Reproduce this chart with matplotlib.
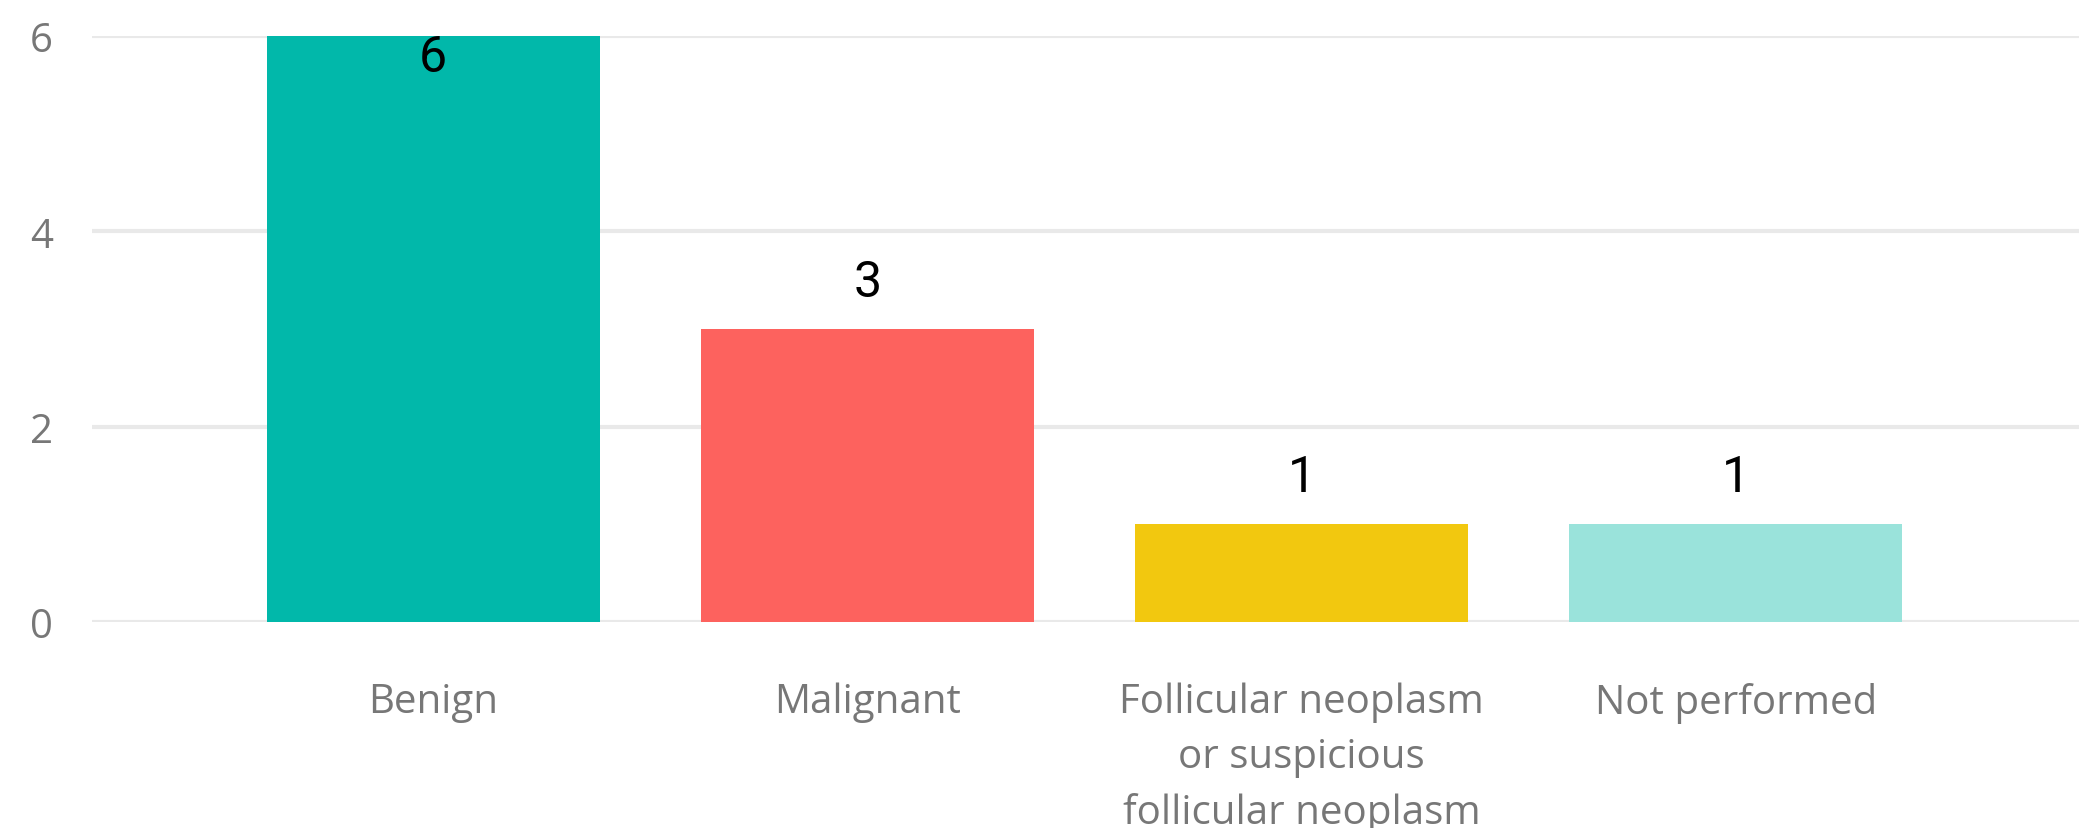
import matplotlib
matplotlib.use("Agg")
import matplotlib.pyplot as plt

categories = ["Benign", "Malignant", "Follicular neoplasm\nor suspicious\nfollicular neoplasm", "Not performed"]
values = [6, 3, 1, 1]
colors = ["#01B8AA", "#FD625E", "#F2C80F", "#9AE3DB"]
yticks = [0, 2, 4, 6]

W, H = 2079, 829
fig = plt.figure(figsize=(W / 100, H / 100), dpi=100)
ax = fig.add_axes([92 / W, (H - 623) / H, 1 - 92 / W, (623 - 37) / H])

x = list(range(len(categories)))
bars = ax.bar(x, values, width=0.767, color=colors, zorder=3)

ax.set_xlim(-0.786, 3.79)
ax.set_ylim(0, 6)
ax.set_yticks(yticks)
ax.set_yticklabels([str(t) for t in yticks])
ax.set_xticks(x)
ax.set_xticklabels(categories, linespacing=1.47)

for s in ax.spines.values():
    s.set_visible(False)
ax.grid(axis="y", color="#E9E9E9", linewidth=3.0, zorder=0)
ax.grid(axis="x", visible=False)
ax.tick_params(axis="both", length=0, colors="#777777")
ax.tick_params(axis="y", pad=28, labelsize=29)
ax.tick_params(axis="x", pad=43, labelsize=29)
for lab in ax.get_xticklabels() + ax.get_yticklabels():
    lab.set_fontfamily(["Open Sans", "DejaVu Sans"])
    lab.set_color("#777777")

ymax = ax.get_ylim()[1]
for xi, v in zip(x, values):
    if v >= ymax * 0.95:
        ax.annotate(str(v), xy=(xi, v), xytext=(0, -25.2), textcoords="offset points",
                    ha="center", va="baseline", fontsize=36, color="black",
                    family=["Roboto", "DejaVu Sans"], zorder=4)
    else:
        ax.annotate(str(v), xy=(xi, v), xytext=(0, 23.8), textcoords="offset points",
                    ha="center", va="baseline", fontsize=36, color="black",
                    family=["Roboto", "DejaVu Sans"], zorder=4)

fig.savefig("out.png", dpi=100)
